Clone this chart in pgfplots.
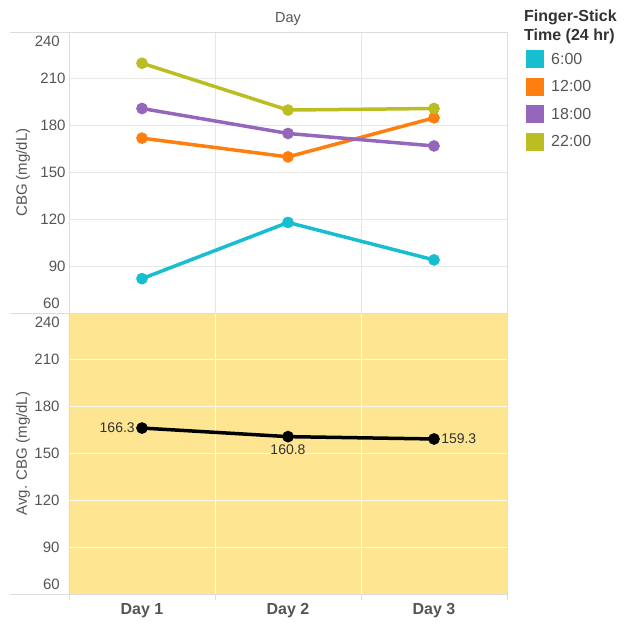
\documentclass[border=0pt]{standalone}
\usepackage{pgfplots}
\pgfplotsset{compat=1.18}
\usepackage{fontspec}
\setmainfont{Liberation Sans}
\definecolor{c1}{HTML}{17BECF}
\definecolor{c2}{HTML}{FF7F0E}
\definecolor{c3}{HTML}{9467BD}
\definecolor{c4}{HTML}{BCBD22}
\definecolor{bgy}{HTML}{FDE592}
\definecolor{frame}{HTML}{DDDDDD}
\definecolor{txt}{HTML}{555555}
\definecolor{ttl}{HTML}{333333}
\newcommand{\tf}{\fontsize{15}{18}\selectfont}
\pgfplotsset{
  panel/.style={
    scale only axis, width=438pt, height=281pt,
    xmin=0.5, xmax=3.5, ymin=60, ymax=240,
    ytick={90,120,...,210},
    axis line style={draw=frame, line width=0.8pt},
    major tick length=0pt,
    ymajorgrids, xmajorgrids,
    tick label style={font=\tf, text=txt},
    /pgf/number format/assume math mode=true,
    ylabel style={at={(axis description cs:-0.105,0.5)}, anchor=center, font=\tf, text=txt},
    clip=false,
  },
  ser/.style={line width=3.5pt, mark=*, mark size=4pt},
}
\begin{document}
\begin{tikzpicture}
\path (0,0) rectangle (626pt,626pt);
% top panel
\begin{axis}[panel,
  at={(69pt,313pt)}, anchor=south west,
  xtick={1.5,2.5}, xticklabels={},
  grid style={draw=frame!70, line width=0.8pt},
  ylabel={CBG (mg/dL)},
  legend style={at={(axis description cs:1.0434,0.936)}, anchor=north west,
    draw=none, fill=none, inner sep=0pt, row sep=9.5pt,
    font=\fontsize{16}{19}\selectfont, text=txt,
    nodes={inner sep=0pt},
    /tikz/every odd column/.append style={column sep=7pt}},
  legend cell align=left,
  legend image code/.code={\fill[#1, draw=none] (0pt,-9pt) rectangle (18pt,9pt);},
]
\addplot[c1, ser] coordinates {(1,82) (2,118) (3,94)};
\addplot[c2, ser] coordinates {(1,172) (2,160) (3,185)};
\addplot[c3, ser] coordinates {(1,191) (2,175) (3,167)};
\addplot[c4, ser] coordinates {(1,220) (2,190) (3,191)};
\legend{6:00,12:00,18:00,22:00}
\node[anchor=north east, inner sep=0pt, font=\tf, text=txt] at ([xshift=-9pt,yshift=-4pt]axis description cs:0,1) {240};
\node[anchor=south east, inner sep=0pt, font=\tf, text=txt] at ([xshift=-9pt,yshift=4pt]axis description cs:0,0) {60};
\node[anchor=base, inner sep=0pt, font=\fontsize{14.5}{17}\selectfont, text=txt] at ([yshift=9pt]axis description cs:0.5,1) {Day};
\end{axis}
% bottom panel
\begin{axis}[panel,
  at={(69pt,32pt)}, anchor=south west,
  axis background/.style={fill=bgy},
  grid style={draw=white!85!bgy, line width=1pt},
  xtick={0.5,1.5,2.5,3.5}, xticklabels={},
  major tick length=6pt, tick align=outside, xtick pos=bottom,
  xtick style={draw=frame, line width=0.8pt},
  ytick style={draw=none},
  extra x ticks={1,2,3},
  extra x tick labels={Day 1,Day 2,Day 3},
  extra x tick style={grid=none, major tick length=0pt,
    xticklabel style={font=\fontsize{16}{19}\selectfont\bfseries, text=txt, inner sep=0pt, yshift=-9pt}},
  ylabel={Avg. CBG (mg/dL)},
]
\addplot[black, line width=3.5pt, mark=*, mark size=4pt,
  point meta=explicit symbolic,
  visualization depends on={value \thisrow{anc}\as\anc},
  nodes near coords,
  every node near coord/.append style={anchor=\anc, font=\fontsize{14}{17}\selectfont, text=ttl, inner xsep=5.5pt, inner ysep=6pt},
] table[meta=lab] {
x y lab anc
1 166.3 166.3 east
2 160.8 160.8 north
3 159.3 159.3 west
};
\node[anchor=north east, inner sep=0pt, font=\tf, text=txt] at ([xshift=-9pt,yshift=-4pt]axis description cs:0,1) {240};
\node[anchor=south east, inner sep=0pt, font=\tf, text=txt] at ([xshift=-9pt,yshift=4pt]axis description cs:0,0) {60};
\end{axis}
\draw[frame, line width=0.8pt] (10pt,594pt) -- (69pt,594pt);
\draw[frame, line width=0.8pt] (10pt,313pt) -- (69pt,313pt);
\draw[frame, line width=0.8pt] (10pt,32pt) -- (69pt,32pt);
\node[anchor=north west, inner sep=0pt, align=left, font=\fontsize{16}{19}\selectfont\bfseries, text=ttl] at (524pt,616pt) {Finger-Stick\\Time (24 hr)};
\end{tikzpicture}
\end{document}
